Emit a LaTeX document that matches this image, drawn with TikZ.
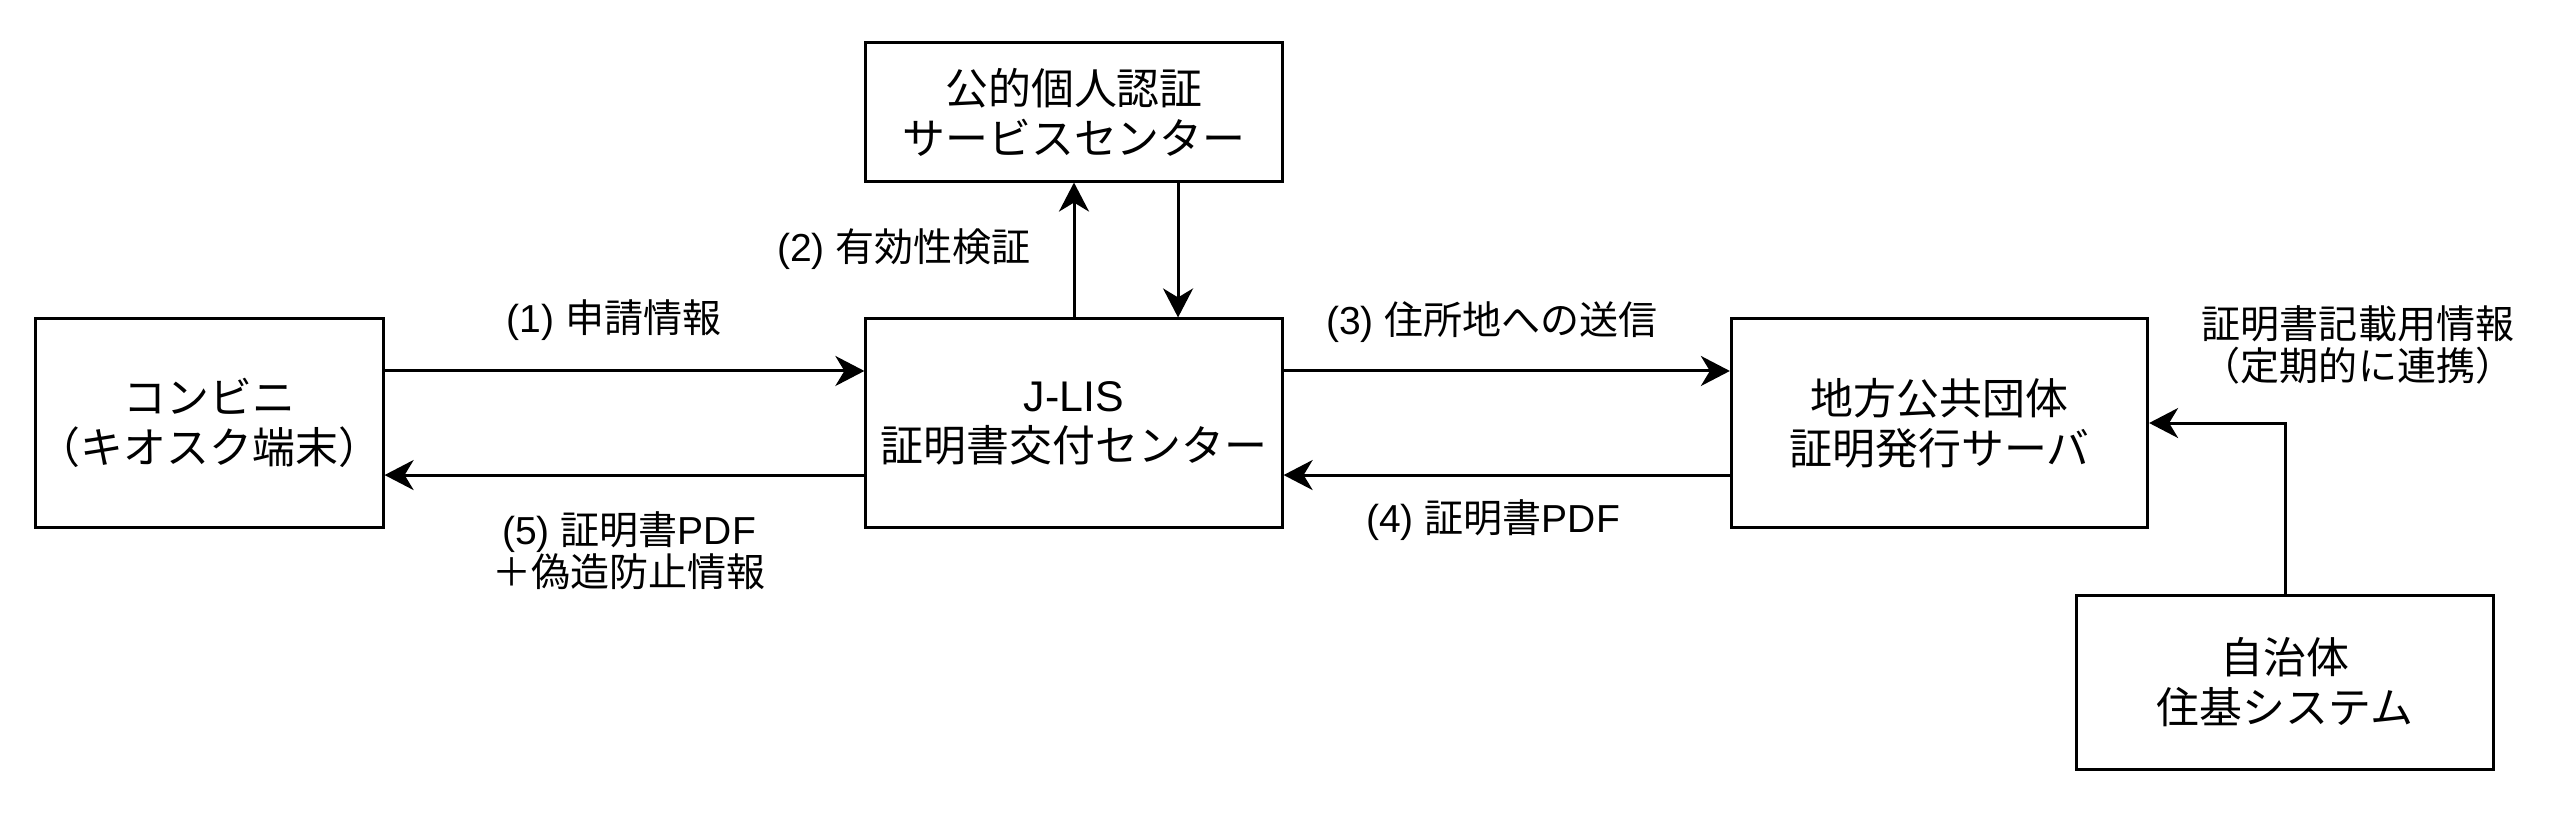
\documentclass[tikz,border=0pt]{standalone}
\usepackage{fontspec}
\setmainfont{Liberation Sans}
\newfontfamily\lat{Liberation Sans}
\newfontfamily\jp{Noto Sans CJK JP}
\usetikzlibrary{arrows.meta}

\tikzset{box/.style={draw,line width=0.85pt,minimum width=4.16cm,minimum height=2.08cm,
                     align=center,inner sep=0pt,font=\jp\fontsize{12.2}{14.2}\selectfont},
         lbl/.style={align=center,inner sep=0pt,font=\jp\fontsize{11.1}{11.9}\selectfont},
         flow/.style={line width=0.85pt,-{Stealth[length=0.29cm,width=0.3cm,inset=0.09cm]}}}

\begin{document}
\begin{tikzpicture}[x=0.01cm,y=-0.01cm]
                  \useasboundingbox (0,0) rectangle (2574,814);
                  \node[box,minimum width=3.47cm] (konbini) at (209.5,423) {コンビニ\\（キオスク端末）};
                  \node[box] (jlis) at (1074,423) {{\lat J-LIS}\\証明書交付センター};
                  \node[box,minimum height=1.38cm] (jpki) at (1074,112) {公的個人認証\\サービスセンター};
                  \node[box] (chiho) at (1939.5,423) {地方公共団体\\証明発行サーバ};
                  \node[box,minimum height=1.73cm] (jichitai) at (2285,682.5) {自治体\\住基システム};
                  \draw[flow] ([yshift=0.52cm]konbini.east) -- ([yshift=0.52cm]jlis.west);
                  \draw[flow] ([yshift=-0.52cm]jlis.west) -- ([yshift=-0.52cm]konbini.east);
                  \draw[flow] (jlis.north) -- (jpki.south);
                  \draw[flow] ([xshift=1.04cm]jpki.south) -- ([xshift=1.04cm]jlis.north);
                  \draw[flow] ([yshift=0.52cm]jlis.east) -- ([yshift=0.52cm]chiho.west);
                  \draw[flow] ([yshift=-0.52cm]chiho.west) -- ([yshift=-0.52cm]jlis.east);
                  \draw[flow] (jichitai.north) |- (chiho.east);
                  \node[lbl] (l1) at (614,320) {{\lat (1) }申請情報};
                  \node[lbl] (l2) at (904,249) {{\lat (2) }有効性検証};
                  \node[lbl] (l3) at (1492,322) {{\lat (3) }住所地への送信};
                  \node[lbl] (l4) at (1493,520) {{\lat (4) }証明書{\lat PDF}};
                  \node[lbl] (l5) at (629,551) {{\lat (5) }証明書{\lat PDF}\\＋偽造防止情報};
                  \node[lbl] (l6) at (2358,345) {証明書記載用情報\\（定期的に連携）};
              \end{tikzpicture}
\end{document}
